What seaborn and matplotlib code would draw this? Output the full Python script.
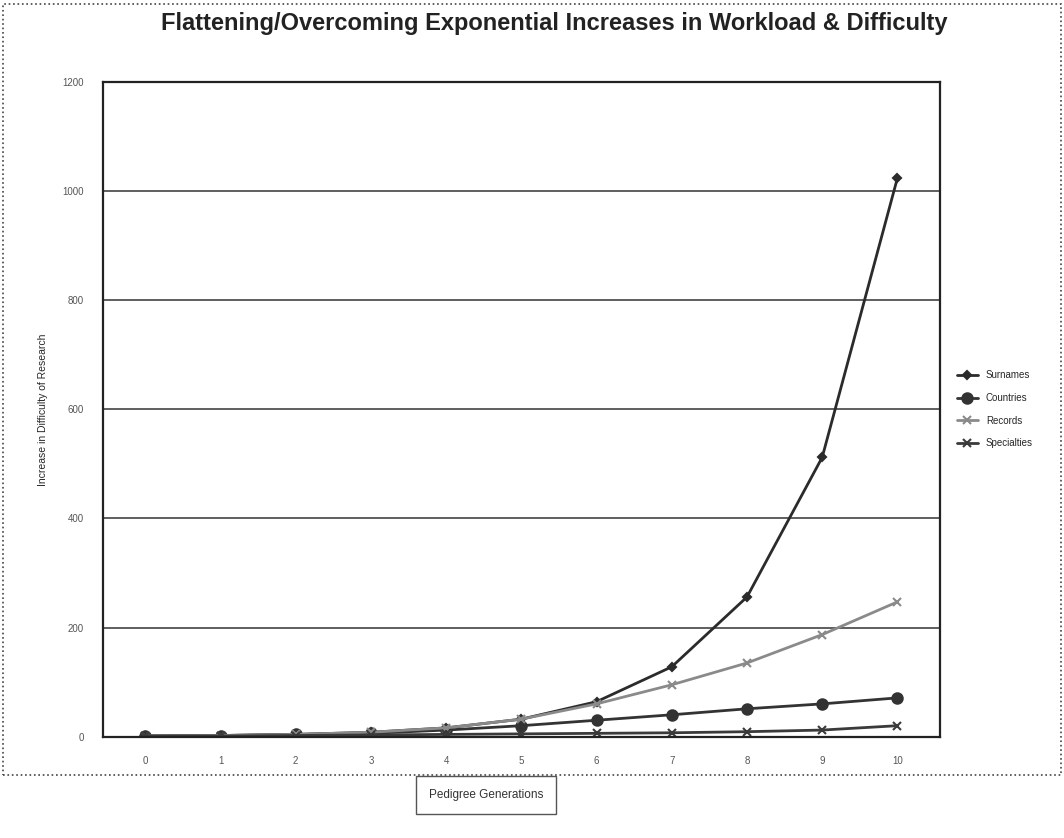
"""
Pedigree chart - exponential growth of research workload per generation
"""

import matplotlib.pyplot as plt
import matplotlib.patches as mpatches
import seaborn as sns
import pandas as pd

sns.set_style("white")
plt.rcParams['font.family'] = ['Liberation Sans', 'DejaVu Sans']

generations = [0, 1, 2, 3, 4, 5, 6, 7, 8, 9, 10]
series_names = ['Surnames', 'Countries', 'Records', 'Specialties']
surnames = [1, 2, 4, 8, 16, 32, 64, 128, 256, 512, 1024]
countries = [1, 2, 4, 6, 12, 20, 30, 40, 51, 60, 71]
records = [1, 2, 4, 8, 16, 32, 60, 95, 135, 187, 247]
specialties = [1, 1, 2, 3, 4, 5, 6, 7, 9, 12, 20]
y_ticks = [0, 200, 400, 600, 800, 1000, 1200]

df = pd.DataFrame({
    'Generation': generations * 4,
    'Value': surnames + countries + records + specialties,
    'Series': [s for s in series_names for _ in generations],
})

palette = {'Surnames': '#2b2b2b', 'Countries': '#333333',
           'Records': '#8a8a8a', 'Specialties': '#3a3a3a'}
markers = {'Surnames': 'D', 'Countries': 'o', 'Records': 'x', 'Specialties': 'x'}
sizes = {'Surnames': 4, 'Countries': 7.5, 'Records': 6, 'Specialties': 6}

fig = plt.figure(figsize=(10.64, 8.38), dpi=100)
ax = fig.add_axes([0.097, 0.121, 0.786, 0.781])

for name in series_names:
    sub = df[df['Series'] == name]
    sns.lineplot(data=sub, x='Generation', y='Value', ax=ax, color=palette[name],
                 marker=markers[name], markersize=sizes[name], linewidth=2,
                 markeredgewidth=1.5, markeredgecolor=palette[name], label=name)

ax.set_xlim(-0.56, 10.56)
ax.set_ylim(0, 1200)
ax.set_xticks(generations)
ax.set_xticklabels([str(g) for g in generations], fontsize=7, color='#555555')
ax.set_yticks(y_ticks)
ax.set_yticklabels([str(t) for t in y_ticks], fontsize=7, color='#555555')
ax.tick_params(axis='both', length=0, pad=14)
ax.yaxis.grid(True, color='#333333', linewidth=1.1)
ax.xaxis.grid(False)
for side in ax.spines.values():
    side.set_color('#222222')
    side.set_linewidth(1.6)

ax.set_xlabel('')
ax.set_ylabel('Increase in Difficulty of Research', fontsize=7.5, labelpad=10)

ax.legend(loc='center left', bbox_to_anchor=(1.01, 0.5), frameon=False,
          fontsize=7, handlelength=2.2, labelspacing=1.3)

fig.text(0.521, 0.972, 'Flattening/Overcoming Exponential Increases in Workload & Difficulty',
         ha='center', va='center', fontsize=17, fontweight='bold', color='#222222')

fig.text(0.457, 0.051, 'Pedigree Generations', ha='center', va='center', fontsize=8.5,
         color='#333333',
         bbox=dict(boxstyle='square,pad=1.1', facecolor='white', edgecolor='#555555',
                   linewidth=1))

# dotted outer frame of the chart area
fig.patches.append(mpatches.Rectangle((0.003, 0.075), 0.994, 0.92, transform=fig.transFigure,
                                      fill=False, edgecolor='#444444', linestyle=':',
                                      linewidth=1.2))

plt.savefig('out.png', dpi=100)
plt.close()
